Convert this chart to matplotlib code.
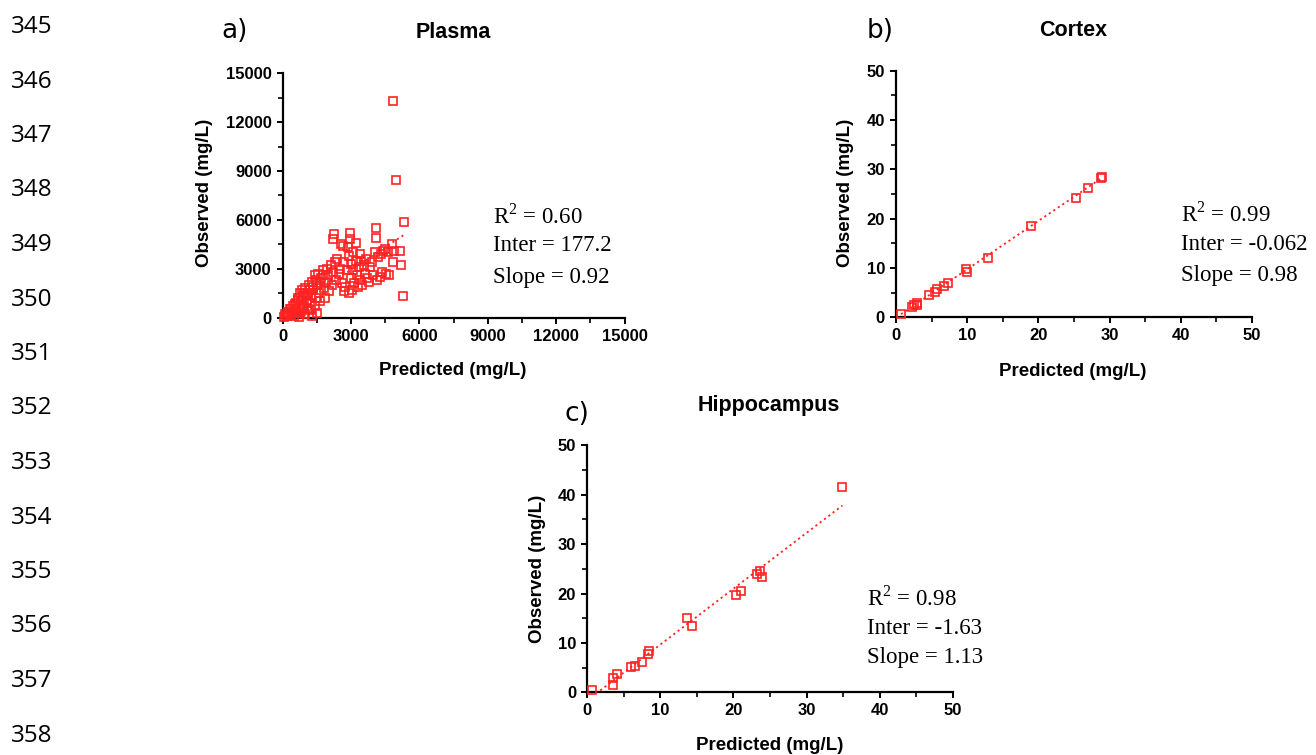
import matplotlib
matplotlib.use("Agg")
import matplotlib.pyplot as plt
from matplotlib.ticker import MultipleLocator
from matplotlib.font_manager import FontProperties
import numpy as np

plt.rcParams['mathtext.fontset'] = 'custom'
plt.rcParams['mathtext.rm'] = 'Liberation Serif'

# ---------------- data ----------------
line_numbers = [str(n) for n in range(345, 359)]

plasma_pred = [50, 120, 200, 250, 300, 350, 400, 450, 500, 520, 600, 620, 650, 700, 720, 750, 800, 820,
               850, 900, 950, 980, 1000, 1050, 1100, 1100, 1150, 1200, 1250, 1300, 1300, 1350, 1400, 1400,
               1450, 1500, 1500, 1550, 1600, 1650, 1700, 1750, 1800, 1850, 1900, 1950, 2000, 2050, 2100,
               2150, 2200, 2200, 2250, 2300, 2350, 2400, 2450, 2500, 2550, 2600, 2650, 2700, 2700, 2750,
               2800, 2850, 2900, 2900, 2950, 2950, 3000, 3000, 3050, 3100, 3100, 3150, 3200, 3200, 3250,
               3300, 3350, 3400, 3400, 3450, 3500, 3550, 3600, 3650, 3700, 3800, 3850, 3900, 3950, 4050,
               4100, 4100, 4150, 4200, 4250, 4300, 4350, 4400, 4500, 4550, 4600, 4650, 4800, 4850, 4820,
               4870, 4970, 5150, 5190, 5300, 5320,
               150, 330, 430, 560, 680, 780, 880, 1020, 1180, 1330, 1480, 1620, 1780, 1230, 1060, 930]
plasma_obs = [50, 200, 80, 350, 150, 500, 250, 700, 100, 400, 900, 300, 1200, 600, 50, 1500, 1000, 400,
              1700, 1300, 700, 200, 1800, 1100, 1500, 500, 2000, 900, 1300, 2200, 100, 1700, 2600, 700,
              1200, 2000, 300, 2700, 1500, 1000, 2400, 2900, 1800, 1200, 2200, 3000, 2600, 1600, 3200,
              2000, 2800, 4800, 5100, 3400, 2300, 3600, 2700, 3000, 4500, 2100, 4400, 1600, 3400, 1900,
              2900, 4300, 3800, 1500, 5200, 4800, 2400, 3300, 1700, 4000, 2900, 2100, 4600, 3500, 2600,
              1900, 3100, 3900, 2300, 3500, 2000, 3200, 2700, 3600, 2400, 2200, 3100, 3400, 2600, 4000,
              5500, 4900, 2300, 3700, 2500, 3900, 2800, 4100, 4200, 2700, 4000, 2600, 4500, 3400, 13300,
              4100, 8450, 4100, 3250, 1290, 5850,
              100, 550, 300, 800, 1100, 250, 600, 1400, 1700, 1900, 2300, 2100, 2600, 450, 900, 1500]
plasma_stats = ["R$^{2}$ = 0.60", "Inter = 177.2", "Slope = 0.92"]
plasma_fit = (177.2, 0.92)

cortex_pred = [0.70, 2.2, 2.5, 2.9, 3.0, 4.68, 5.48, 5.7, 6.74, 7.35, 9.83, 9.93, 12.97, 18.96, 25.28,
               27.0, 28.8, 29.0]
cortex_obs = [0.61, 2.16, 2.5, 2.84, 2.5, 4.46, 5.2, 5.68, 6.42, 6.9, 9.73, 9.26, 12.1, 18.5, 24.2,
              26.15, 28.2, 28.5]
cortex_stats = ["R$^{2}$ = 0.99", "Inter = -0.062", "Slope = 0.98"]
cortex_fit = (-0.062, 0.98)

hippo_pred = [0.59, 3.56, 3.47, 4.0, 5.93, 6.5, 7.44, 8.26, 8.39, 13.6, 14.3, 20.3, 21.1, 23.2, 23.6,
              23.9, 34.9]
hippo_obs = [0.47, 1.48, 2.83, 3.64, 5.06, 5.33, 6.2, 7.76, 8.37, 15.1, 13.5, 19.6, 20.5, 23.9, 24.6,
             23.4, 41.6]
hippo_stats = ["R$^{2}$ = 0.98", "Inter = -1.63", "Slope = 1.13"]
hippo_fit = (-1.63, 1.13)

# ---------------- figure ----------------
W, H = 1316, 755
fig = plt.figure(figsize=(W / 100, H / 100), dpi=100)

def px(x, y):
    return x / W, 1 - y / H

RED = '#ff2222'
TICKFONT = dict(family='Liberation Sans', weight='bold', size=12)
LABELFONT = dict(family='Liberation Sans', weight='bold', size=13.5)
TITLEFONT = dict(family='Liberation Sans', weight='bold', size=15.5)
STATFONT = dict(family='Liberation Serif', size=16.5)
LETTERFONT = dict(family='DejaVu Sans', weight='normal', size=19)

def panel(rect_px, xs, ys, fit, lim, major, minor):
    l, t, r, b = rect_px
    ax = fig.add_axes([l / W, 1 - b / H, (r - l) / W, (b - t) / H])
    ax.set_xlim(0, lim)
    ax.set_ylim(0, lim)
    for s in ('top', 'right'):
        ax.spines[s].set_visible(False)
    for s in ('left', 'bottom'):
        ax.spines[s].set_linewidth(1.6)
    ax.xaxis.set_major_locator(MultipleLocator(major))
    ax.yaxis.set_major_locator(MultipleLocator(major))
    ax.xaxis.set_minor_locator(MultipleLocator(minor))
    ax.yaxis.set_minor_locator(MultipleLocator(minor))
    ax.tick_params(which='major', length=4.5, width=1.4, direction='out', pad=3.5)
    ax.tick_params(which='minor', length=3.5, width=1.2, direction='out')
    for lab in ax.get_xticklabels() + ax.get_yticklabels():
        lab.set_fontproperties(FontProperties(**TICKFONT))
    xs = np.asarray(xs, float)
    ys = np.asarray(ys, float)
    xl = np.array([xs.min(), xs.max()])
    ax.plot(xl, fit[0] + fit[1] * xl, linestyle=(0, (1.2, 1.8)), color=RED, lw=1.3, zorder=2)
    ax.plot(xs, ys, linestyle='none', marker='s', markersize=5.4, markerfacecolor='none',
            markeredgecolor=RED, markeredgewidth=1.2, clip_on=False, zorder=3)
    return ax

panel((282.7, 73.3, 624.5, 317.5), plasma_pred, plasma_obs, plasma_fit, 15000, 3000, 1500)
panel((896, 70.7, 1252, 317.3), cortex_pred, cortex_obs, cortex_fit, 50, 10, 5)
panel((587.3, 445.3, 952.7, 692.3), hippo_pred, hippo_obs, hippo_fit, 50, 10, 5)

# titles, labels
titles = [("Plasma", 453, 32), ("Cortex", 1073, 30), ("Hippocampus", 769, 405)]
for s, x, y in titles:
    fig.text(*px(x, y), s, ha='center', va='center', **TITLEFONT)
letters = [("a)", 235, 31), ("b)", 880, 31), ("c)", 577, 414)]
for s, x, y in letters:
    fig.text(*px(x, y), s, ha='center', va='center', **LETTERFONT)
xlabels = [(453, 370), (1073, 371), (770, 746)]
for x, y in xlabels:
    fig.text(*px(x, y), "Predicted (mg/L)", ha='center', va='center', **LABELFONT)
ylabels = [(205, 193), (845, 193), (537, 569)]
for x, y in ylabels:
    fig.text(*px(x, y), "Observed (mg/L)", ha='center', va='center', rotation=90, **LABELFONT)

stat_blocks = [(plasma_stats, 493, [216, 246, 277]),
               (cortex_stats, 1181, [214, 245, 275]),
               (hippo_stats, 867, [598, 628, 657])]
for lines, x, ysl in stat_blocks:
    for s, y in zip(lines, ysl):
        fig.text(*px(x, y), s, ha='left', va='center', **STATFONT)

# line numbers
for i, s in enumerate(line_numbers):
    y = 27 + i * 54.5
    fig.text(*px(11, y), s, ha='left', va='center', family='Open Sans', size=17.5)

fig.savefig("out.png", dpi=100)
